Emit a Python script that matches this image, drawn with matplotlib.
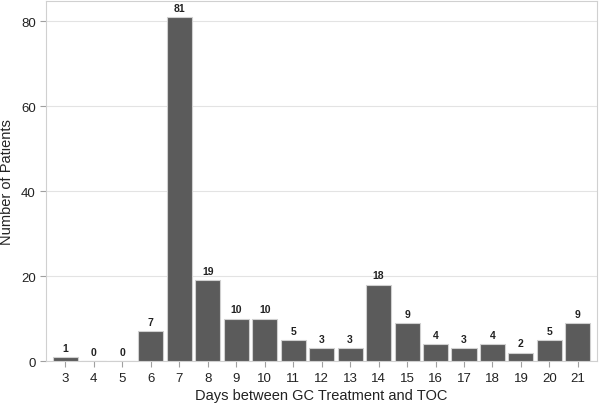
import matplotlib.pyplot as plt

plt.rcParams['font.family'] = ['Liberation Sans', 'DejaVu Sans']

days = [3, 4, 5, 6, 7, 8, 9, 10, 11, 12, 13, 14, 15, 16, 17, 18, 19, 20, 21]
patients = [1, 0, 0, 7, 81, 19, 10, 10, 5, 3, 3, 18, 9, 4, 3, 4, 2, 5, 9]

fig = plt.figure(figsize=(6, 4.06), dpi=100)
ax = fig.add_axes([0.077, 0.108, 0.918, 0.887])

pos = range(len(days))
bars = ax.bar(pos, patients, width=0.88, color='#5b5b5b', edgecolor='#d0d0d0', linewidth=0.8, zorder=3)

# value labels on top of each bar
for p, v in zip(pos, patients):
    ax.text(p, v + 1.0, str(v), ha='center', va='bottom', fontsize=7.5, fontweight='bold', color='#222222')

ax.set_xticks(list(pos))
ax.set_xticklabels([str(d) for d in days])
ax.set_xlim(-0.67, len(days) - 0.33)
ax.set_ylim(0, 84.7)
ax.set_yticks([0, 20, 40, 60, 80])
ax.yaxis.grid(True, color='#e3e3e3', linewidth=0.8, zorder=0)

for s in ax.spines.values():
    s.set_color('#d0d0d0')
    s.set_linewidth(0.8)

ax.tick_params(axis='both', labelsize=9.5, length=4, width=0.8, colors='#222222')
ax.tick_params(axis='both', color='#a0a0a0')
ax.set_xlabel('Days between GC Treatment and TOC', fontsize=10.5, color='#222222', labelpad=3)
ax.set_ylabel('Number of Patients', fontsize=10.5, color='#222222', labelpad=5)

plt.savefig('out.png', dpi=100)
